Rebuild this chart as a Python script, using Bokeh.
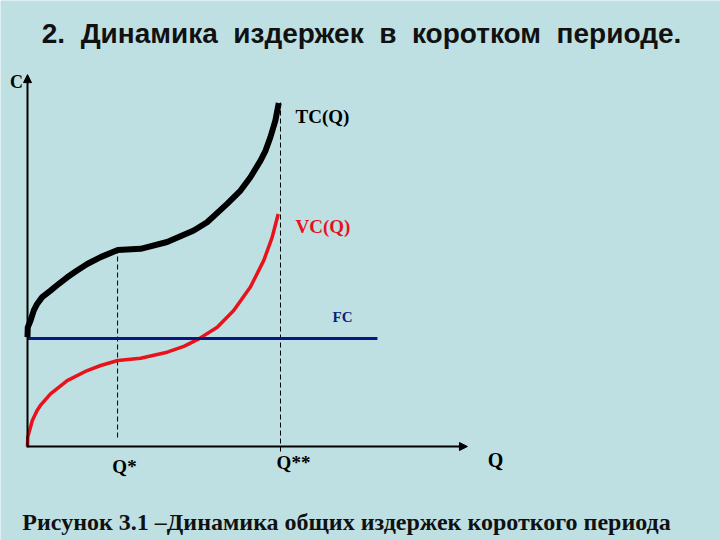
from bokeh.plotting import figure
from bokeh.models import Range1d, Arrow, NormalHead
from bokeh.core.properties import value
from bokeh.embed import file_html
from bokeh.resources import INLINE

# ---------------- data ----------------
vc_q = [0.0, 0.01, 0.12, 0.19, 0.38, 0.51, 0.91, 1.57, 2.36, 2.89, 3.57, 4.47,
        5.52, 6.18, 6.77, 7.50, 8.15, 8.81, 9.34, 9.67, 9.91]
vc_c = [0.0, 0.26, 0.54, 0.72, 1.00, 1.14, 1.46, 1.83, 2.11, 2.25, 2.39, 2.45,
        2.62, 2.78, 2.99, 3.31, 3.78, 4.43, 5.17, 5.81, 6.46]

tc_q = [0.0, 0.01, 0.12, 0.25, 0.38, 0.58, 0.91, 1.24, 1.57, 1.96, 2.36, 2.89,
        3.57, 4.47, 5.52, 6.57, 7.10, 7.89, 8.42, 8.81, 9.21, 9.41, 9.60, 9.80, 9.93]
tc_c = [3.04, 3.31, 3.50, 3.78, 3.96, 4.15, 4.33, 4.52, 4.70, 4.89, 5.07, 5.26,
        5.46, 5.49, 5.68, 6.00, 6.23, 6.74, 7.11, 7.48, 7.94, 8.22, 8.59, 9.06, 9.54]

fc_value = 3.0
fc_q_end = 13.83

mark_q = [3.56, 10.0]          # Q*, Q**
mark_top = [5.46, 9.61]
mark_bottom = [0.25, -0.14]
mark_labels = ["Q*", "Q**"]

axis_q_end = 17.39
axis_c_end = 10.33

NB = "\u00a0"
title_words = ["2.", "Динамика", "издержек", "в", "коротком", "периоде."]
title_text = (" " + NB).join(title_words)
caption_text = "Рисунок 3.1 –Динамика общих издержек короткого периода"

# ---------------- layout ----------------
W, H = 720, 540
OX, OY = 27, 446        # page pixel of origin
SX, SY = 25.3, 36.0     # pixels per data unit


def qx(px):
    return (px - OX) / SX


def cy(py):
    return (OY - py) / SY


BG = "#bee0e3"

p = figure(width=W, height=H, output_backend="svg", toolbar_location=None,
           x_range=Range1d(qx(0), qx(W)), y_range=Range1d(cy(H), cy(0)),
           min_border=0, background_fill_color=BG, border_fill_color=BG,
           outline_line_color=None)
p.axis.visible = False
p.grid.visible = False

# dashed guide lines
p.segment(x0=mark_q, y0=mark_bottom, x1=mark_q, y1=mark_top,
          line_color="black", line_width=1, line_dash="5 3")

# axes with arrows
p.add_layout(Arrow(end=NormalHead(size=8, fill_color="black", line_color="black"),
                   x_start=0, y_start=cy(447), x_end=0, y_end=axis_c_end,
                   line_width=2, line_color="black"))
p.add_layout(Arrow(end=NormalHead(size=8, fill_color="black", line_color="black"),
                   x_start=0, y_start=0, x_end=axis_q_end, y_end=0,
                   line_width=2, line_color="black"))

# curves
p.line(vc_q, vc_c, line_color="#e8121b", line_width=3.5, line_join="round")
p.line([0, fc_q_end], [fc_value, fc_value], line_color="#0b1585", line_width=3)
p.line(tc_q, tc_c, line_color="black", line_width=6, line_join="round")

serif = value("Liberation Serif")

# curve labels
p.text(x=[qx(295)], y=[cy(116)], text=["TC(Q)"], text_font=serif,
       text_font_style="bold", text_font_size="19px", text_color="black",
       text_baseline="middle", text_align="left")
p.text(x=[qx(295)], y=[cy(226)], text=["VC(Q)"], text_font=serif,
       text_font_style="bold", text_font_size="19px", text_color="#e8121b",
       text_baseline="middle", text_align="left")
p.text(x=[qx(332)], y=[cy(316)], text=["FC"], text_font=serif,
       text_font_style="bold", text_font_size="15px", text_color="#0b1f7a",
       text_baseline="middle", text_align="left")

# axis labels
p.text(x=[qx(16)], y=[cy(81)], text=["C"], text_font=serif,
       text_font_style="bold", text_font_size="18px", text_color="black",
       text_baseline="middle", text_align="center")
p.text(x=[qx(495)], y=[cy(459)], text=["Q"], text_font=serif,
       text_font_style="bold", text_font_size="20px", text_color="black",
       text_baseline="middle", text_align="center")
p.text(x=[qx(124), qx(293)], y=[cy(466), cy(462)], text=mark_labels, text_font=serif,
       text_font_style="bold", text_font_size="19px", text_color="black",
       text_baseline="middle", text_align="center")

# title and caption
p.text(x=[qx(361)], y=[cy(33)], text=[title_text], text_font=value("Liberation Sans"),
       text_font_style="bold", text_font_size="28px", text_color="#111111",
       text_baseline="middle", text_align="center")
p.text(x=[qx(346)], y=[cy(521)], text=[caption_text], text_font=serif,
       text_font_style="bold", text_font_size="24px", text_color="#111111",
       text_baseline="middle", text_align="center")

open("out.html", "w").write(file_html(p, INLINE))
